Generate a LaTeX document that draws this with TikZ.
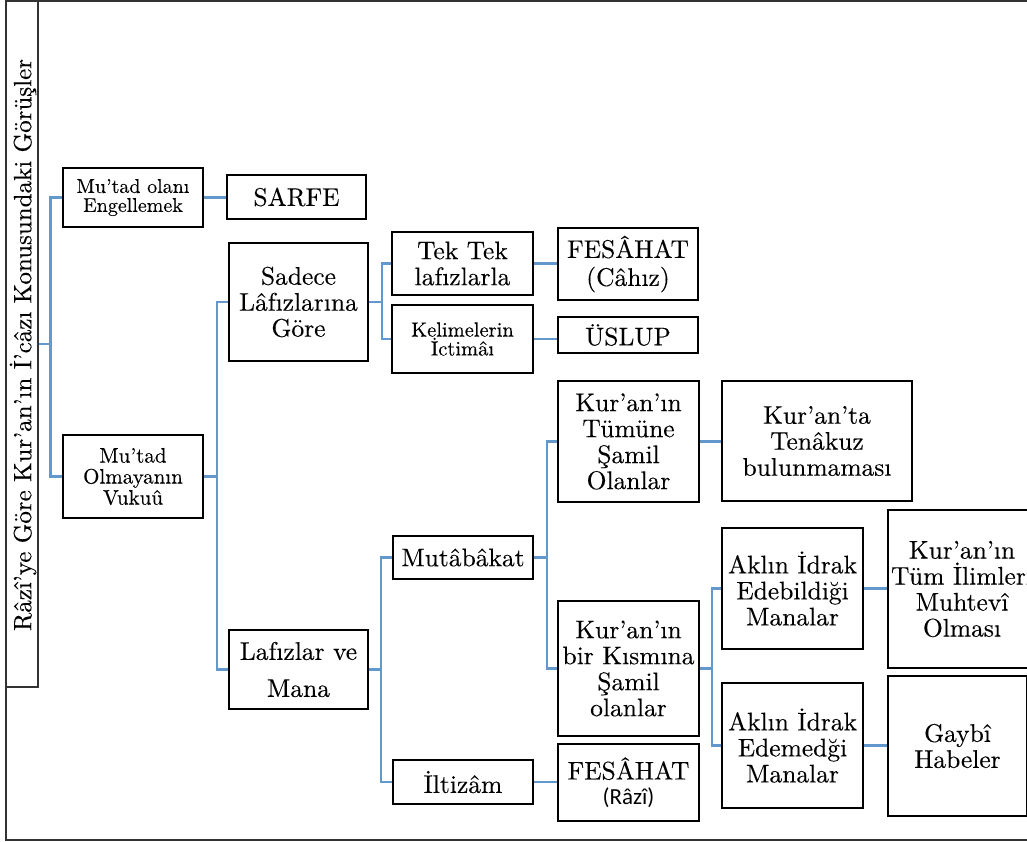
\documentclass[tikz,border=0pt]{standalone}
\usepackage{fontspec}
\setmainfont{lmroman10-regular.otf}[FakeBold=0.2]
\newfontfamily\carl{Carlito}
\definecolor{linkblue}{RGB}{98,152,204}
\tikzset{
  box/.style={draw=black, line width=2pt, align=center, inner sep=0pt, fill=white,
    font=\fontsize{25.5}{26}\selectfont},
  link/.style={draw=linkblue, line width=2.8pt},
  framedraw/.style={draw=black!80, line width=1.6pt}
}
\begin{document}
\begin{tikzpicture}[x=1pt,y=-1pt]
\useasboundingbox (0,0) rectangle (1027,841);
\clip (0,0) rectangle (1027,841);
\fill[white] (0,0) rectangle (1027,841);
% outer frame
\draw[framedraw] (1040,1) -- (6,1) -- (6,840) -- (1040,840);
% title strip
\node[framedraw, minimum width=32, minimum height=686, inner sep=0pt] (title) at (22,344) {};
\node[rotate=90, font=\fontsize{25}{26}\selectfont, inner sep=0pt] (ttext) at (23,345) {Râzî'ye Göre Kur'an'ın İ'câzı Konusundaki Görüşler};

% level 1
\node[box, font=\fontsize{20}{19}\selectfont, minimum width=140, minimum height=59] (me) at (133,197.5) {Mu'tad olanı\\Engellemek};
\node[box, font=\fontsize{21}{21}\selectfont, minimum width=140, minimum height=83] (mov) at (133,476.5) {Mu'tad\\Olmayanın\\Vukuû};
% level 2
\node[box, minimum width=139, minimum height=44] (sarfe) at (296.5,197) {SARFE};
\node[box, minimum width=139, minimum height=118] (sadece) at (298.5,302) {Sadece\\Lâfızlarına\\Göre};
\node[box, font=\fontsize{25.5}{37}\selectfont, minimum width=139, minimum height=79] (lafmana) at (298.5,669.5) {Lafızlar ve\\Mana};
% level 3
\node[box, minimum width=141, minimum height=63] (tektek) at (462.5,263.5) {Tek Tek\\lafızlarla};
\node[box, font=\fontsize{20.5}{17}\selectfont, minimum width=141, minimum height=68] (kelime) at (462.5,339) {Kelimelerin\\İctimâı};
\node[box, minimum width=140, minimum height=43] (mutabakat) at (463,557.5) {Mutâbâkat};
\node[box, minimum width=140, minimum height=44] (iltizam) at (463,782) {İltizâm};
% level 4
\node[box, font=\fontsize{25.5}{28}\selectfont, minimum width=140, minimum height=72] (fcahiz) at (628,264) {FESÂHAT\\(Câhız)};
\node[box, minimum width=140, minimum height=36] (uslup) at (628,335) {ÜSLUP};
\node[box, minimum width=141, minimum height=121] (tumune) at (628.5,441.5) {Kur'an'ın\\Tümüne\\Şamil\\Olanlar};
\node[box, minimum width=141, minimum height=135] (kismina) at (628.5,668.5) {Kur'an'ın\\bir Kısmına\\Şamil\\olanlar};
\node[box, font=\fontsize{25.5}{25}\selectfont, minimum width=141, minimum height=77] (frazi) at (628.5,782.5) {FESÂHAT\\{\carl\fontsize{23}{24}\selectfont (Râzî)}};
% level 5
\node[box, minimum width=190, minimum height=120] (tenakuz) at (817,441) {Kur'an'ta\\Tenâkuz\\bulunmaması};
\node[box, minimum width=141, minimum height=121] (edebil) at (792.5,588.5) {Aklın İdrak\\Edebildiği\\Manalar};
\node[box, minimum width=141, minimum height=125] (edemed) at (792.5,745.5) {Aklın İdrak\\Edemedği\\Manalar};
% level 6
\node[box, minimum width=148, minimum height=158] (ilim) at (962,589) {Kur'an'ın\\Tüm İlimleri\\Muhtevî\\Olması};
\node[box, minimum width=139, minimum height=140] (gaybi) at (957.5,746) {Gaybî\\Habeler};

% connectors
\draw[link] (title.east) -- ++(12,0) coordinate (j1);
\draw[link] (j1) |- (me.west);
\draw[link] (j1) |- (mov.west);
\draw[link] (me.east) -- (me.east -| sarfe.west);
\draw[link] (mov.east) -- ++(13,0) coordinate (j2);
\draw[link] (j2) |- (sadece.west);
\draw[link] (j2) |- (lafmana.west);
\draw[link] (sadece.east) -- ++(13,0) coordinate (j3);
\draw[link] (j3) |- (tektek.west);
\draw[link] (j3) |- (kelime.west);
\draw[link] (tektek.east) -- (tektek.east -| fcahiz.west);
\draw[link] (kelime.east) -- (kelime.east -| uslup.west);
\draw[link] (lafmana.east) -- ++(12,0) coordinate (j4);
\draw[link] (j4) |- (mutabakat.west);
\draw[link] (j4) |- (iltizam.west);
\draw[link] (mutabakat.east) -- ++(13,0) coordinate (j5);
\draw[link] (j5) |- (tumune.west);
\draw[link] (j5) |- (kismina.west);
\draw[link] (iltizam.east) -- (iltizam.east -| frazi.west);
\draw[link] (tumune.east) -- (tumune.east -| tenakuz.west);
\draw[link] (kismina.east) -- ++(12,0) coordinate (j6);
\draw[link] (j6) |- (edebil.west);
\draw[link] (j6) |- (edemed.west);
\draw[link] (edebil.east) -- (edebil.east -| ilim.west);
\draw[link] (edemed.east) -- (edemed.east -| gaybi.west);
\end{tikzpicture}
\end{document}
